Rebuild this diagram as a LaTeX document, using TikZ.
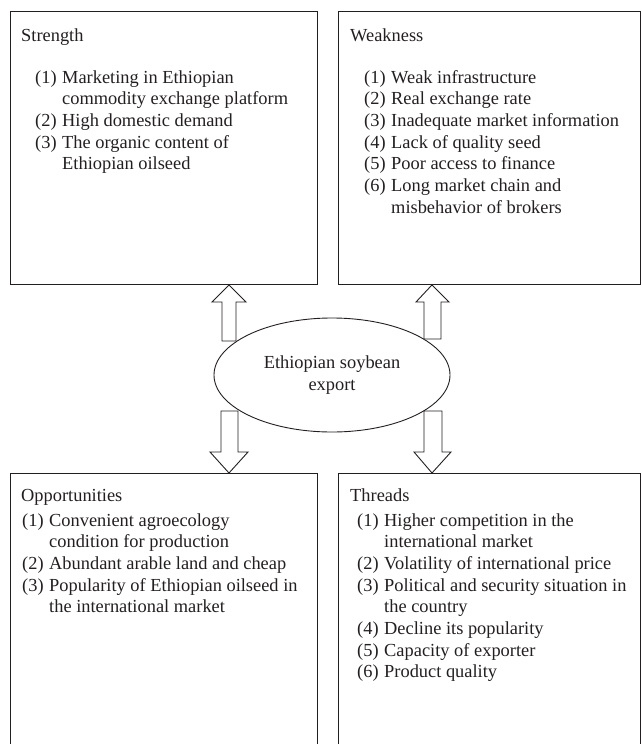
\documentclass[tikz,border=0pt]{standalone}
\usepackage{fontspec}
\setmainfont{Liberation Serif}
\usetikzlibrary{shapes.geometric}
\definecolor{ink}{RGB}{35,31,32}
\newcommand{\itm}[1]{\makebox[27pt][l]{#1}}
\tikzset{
  box/.style={draw=ink, line width=0.9pt, rectangle, anchor=north west, inner sep=0pt},
  ttl/.style={anchor=base west, inner sep=0pt, text=ink},
  lst/.style={anchor=base west, inner sep=0pt, text=ink},
  blk/.style={draw=ink, line width=0.9pt, fill=white, line join=miter},
}
\begin{document}
\begin{tikzpicture}[x=1pt,y=-1pt,font=\fontsize{18.4}{21.7}\selectfont]
\useasboundingbox (0,0) rectangle (641,744);
\clip (0,0) rectangle (641,744);
% boxes
\node[box, minimum width=307, minimum height=273] (S) at (10,11) {};
\node[box, minimum width=302, minimum height=273] (W) at (338,11) {};
\node[box, minimum width=307, minimum height=300] (O) at (10,473) {};
\node[box, minimum width=302, minimum height=300] (T) at (338,473) {};
% centre
\node[draw=ink, line width=0.9pt, ellipse, minimum width=236, minimum height=114, inner sep=0pt, align=center, text=ink] (E) at (332,375) {Ethiopian soybean\\export};
% texts
\node[ttl] (St) at (21,41) {Strength};
\node[lst] (Sl) at (35,83) {\begin{tabular}[t]{@{}l@{}l@{}}
\itm{(1)}&Marketing in Ethiopian\\
&commodity exchange platform\\
\itm{(2)}&High domestic demand\\
\itm{(3)}&The organic content of\\
&Ethiopian oilseed
\end{tabular}};
\node[ttl] (Wt) at (350,41) {Weakness};
\node[lst] (Wl) at (364,83) {\begin{tabular}[t]{@{}l@{}l@{}}
\itm{(1)}&Weak infrastructure\\
\itm{(2)}&Real exchange rate\\
\itm{(3)}&Inadequate market information\\
\itm{(4)}&Lack of quality seed\\
\itm{(5)}&Poor access to finance\\
\itm{(6)}&Long market chain and\\
&misbehavior of brokers
\end{tabular}};
\node[ttl] (Ot) at (21,501) {Opportunities};
\node[lst] (Ol) at (22,526) {\begin{tabular}[t]{@{}l@{}l@{}}
\itm{(1)}&Convenient agroecology\\
&condition for production\\
\itm{(2)}&Abundant arable land and cheap\\
\itm{(3)}&Popularity of Ethiopian oilseed in\\
&the international market
\end{tabular}};
\node[ttl] (Tt) at (350,501) {Threads};
\node[lst] (Tl) at (357,526) {\begin{tabular}[t]{@{}l@{}l@{}}
\itm{(1)}&Higher competition in the\\
&international market\\
\itm{(2)}&Volatility of international price\\
\itm{(3)}&Political and security situation in\\
&the country\\
\itm{(4)}&Decline its popularity\\
\itm{(5)}&Capacity of exporter\\
\itm{(6)}&Product quality
\end{tabular}};
% block arrows (up)
\draw[blk] (S.south -| 229,0) -- (246,302) -- (236,302) -- (236,341) -- (222,341) -- (222,302) -- (212,302) -- cycle;
\draw[blk] (W.south -| 432,0) -- (449,302) -- (441,302) -- (441,339) -- (424,339) -- (424,302) -- (416,302) -- cycle;
% block arrows (down)
\draw[blk] (O.north -| 229,0) -- (248,452) -- (238,452) -- (238,411) -- (221,411) -- (221,452) -- (210,452) -- cycle;
\draw[blk] (T.north -| 432,0) -- (451,452) -- (442,452) -- (442,411) -- (424,411) -- (424,452) -- (414,452) -- cycle;
\end{tikzpicture}
\end{document}
